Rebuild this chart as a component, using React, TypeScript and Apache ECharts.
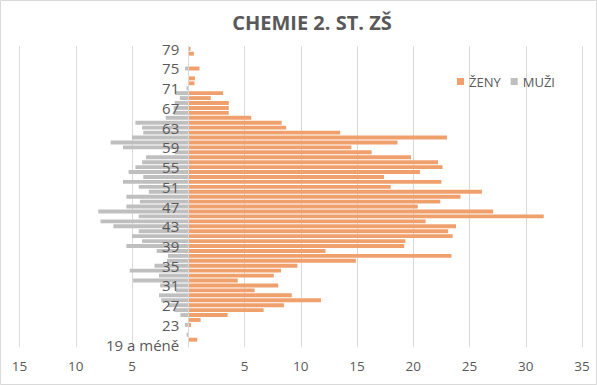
import React, { useEffect, useRef } from "react";
import * as echarts from "echarts";

const ageLabels: string[] = ["19 a méně"];
for (let a = 20; a <= 79; a++) ageLabels.push(String(a));

// index 0 = "19 a méně", index 60 = "79"
const zeny: number[] = [
  0, 0.8, 0, 0, 0.25, 1.1, 3.5, 6.7, 8.5, 11.8,
  9.2, 5.9, 8.0, 4.4, 7.6, 8.25, 9.7, 14.9, 23.4, 12.2,
  19.2, 19.3, 23.5, 23.1, 23.8, 21.1, 31.6, 27.1, 20.4, 22.4,
  24.2, 26.1, 18.0, 22.5, 17.4, 20.6, 22.6, 22.2, 19.8, 16.3,
  14.5, 18.6, 23.0, 13.5, 8.7, 8.3, 5.6, 3.6, 3.6, 3.6,
  2.0, 3.1, 0, 0.55, 0.6, 0, 1.0, 0, 0.05, 0.5,
  0.2,
];

const muzi: number[] = [
  0, 0, 0.15, 0, 0.3, 0, 0.7, 1.25, 1.8, 2.4,
  2.6, 1.1, 2.5, 4.9, 2.6, 5.2, 3.0, 1.9, 1.8, 2.8,
  5.5, 4.1, 5.0, 4.4, 6.65, 7.8, 4.4, 8.0, 5.5, 4.3,
  5.5, 3.5, 4.4, 5.8, 4.0, 5.3, 4.7, 4.1, 3.75, 1.2,
  5.8, 6.9, 5.0, 4.0, 4.1, 4.7, 2.0, 1.3, 1.3, 1.2,
  0.75, 1.15, 0.15, 0, 0, 0, 0.28, 0, 0, 0,
  0,
];

const titleText = "CHEMIE 2. ST. ZŠ";
const seriesNames = ["ŽENY", "MUŽI"];

const X_MIN = -15;
const X_MAX = 35;

export default function App() {
  const ref = useRef<HTMLDivElement>(null);
  useEffect(() => {
    document.body.style.margin = "0";
    const chart = echarts.init(ref.current!, null, { renderer: "svg" });
    const font = "Open Sans, Noto Sans, sans-serif";
    const gridLeft = 19.5;
    const gridRight = 15;
    const plotW = 597 - gridLeft - gridRight;
    const zeroOffset = (plotW * (0 - X_MIN)) / (X_MAX - X_MIN);
    chart.setOption({
      animation: false,
      backgroundColor: "#ffffff",
      textStyle: { fontFamily: font },
      title: {
        text: titleText,
        left: 307,
        top: 7,
        textAlign: "center",
        textStyle: { fontSize: 20, fontWeight: "bold", color: "#595959", fontFamily: font },
      },
      legend: {
        data: seriesNames,
        left: 452,
        top: 70,
        icon: "rect",
        itemWidth: 7,
        itemHeight: 7,
        itemGap: 10,
        textStyle: { fontSize: 13, color: "#595959", fontFamily: font },
      },
      graphic: [
        {
          type: "rect",
          shape: { x: 0.5, y: 0.5, width: 596, height: 384 },
          style: { fill: "none", stroke: "#d9d9d9", lineWidth: 1 },
          silent: true,
        },
      ],
      grid: {
        left: gridLeft,
        right: gridRight,
        top: 46.3,
        bottom: 37.9,
        containLabel: false,
        outerBoundsMode: "none",
      },
      xAxis: {
        type: "value",
        min: X_MIN,
        max: X_MAX,
        interval: 5,
        axisLine: { show: false },
        axisTick: { show: false },
        splitLine: { show: true, lineStyle: { color: "#d9d9d9", width: 1 } },
        axisLabel: {
          color: "#595959",
          fontSize: 13.5,
          margin: 12,
          fontFamily: font,
          formatter: (v: number) => (v === 0 ? "" : String(Math.abs(v))),
        },
      },
      yAxis: {
        type: "category",
        data: ageLabels,
        position: "left",
        offset: -zeroOffset,
        z: 10,
        axisLine: { show: true, onZero: false, lineStyle: { color: "#d9d9d9" } },
        axisTick: { show: false },
        axisLabel: {
          interval: 3,
          color: "#595959",
          fontSize: 15,
          margin: 9,
          fontFamily: font,
        },
      },
      series: [
        {
          name: "ŽENY",
          type: "bar",
          data: zeny,
          barWidth: 3.9,
          barGap: "-100%",
          itemStyle: { color: "#EFA06D" },
        },
        {
          name: "MUŽI",
          type: "bar",
          data: muzi.map((v) => -v),
          barWidth: 3.9,
          barGap: "-100%",
          itemStyle: { color: "#BFBFBF" },
        },
      ],
    });
    return () => chart.dispose();
  }, []);
  return (
    <div
      ref={ref}
      style={{ width: 597, height: 385, position: "absolute", left: 0, top: 0 }}
    />
  );
}
